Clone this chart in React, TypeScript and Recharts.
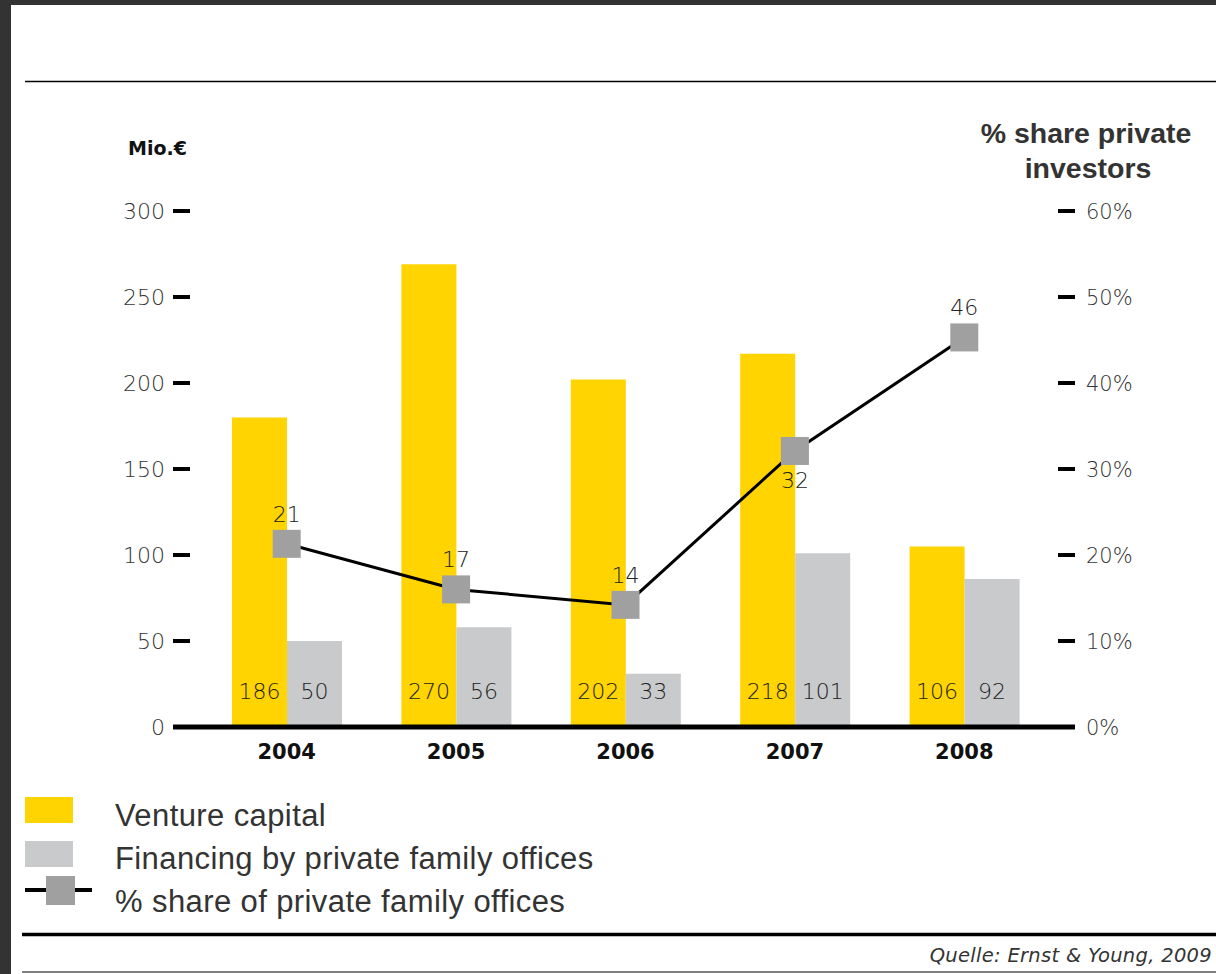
import React from 'react';
import { ComposedChart, Bar, Line, XAxis, YAxis, LabelList } from 'recharts';

const years = ['2004', '2005', '2006', '2007', '2008'];
const ventureCapital = [180, 269, 202, 217, 105];
const ventureCapitalLabels = ['186', '270', '202', '218', '106'];
const familyOffices = [50, 58, 31, 101, 86];
const familyOfficesLabels = ['50', '56', '33', '101', '92'];
const shareFamilyOffices = [21.3, 16, 14.2, 32.1, 45.3];
const shareLabels = ['21', '17', '14', '32', '46'];
const leftTicks = [0, 50, 100, 150, 200, 250, 300];
const rightTicks = [0, 10, 20, 30, 40, 50, 60];

const legendItems = ['Venture capital', 'Financing by private family offices', '% share of private family offices'];

const YELLOW = '#FFD400';
const LIGHTGRAY = '#C9CACC';
const MARKER = '#A0A0A0';
const TEXT = '#333333';
const NUMFONT = '"DejaVu Sans", sans-serif';

const data = years.map((y, i) => ({
  year: y,
  vc: ventureCapital[i],
  fo: familyOffices[i],
  pct: shareFamilyOffices[i],
}));

const XTick = (props: any) => {
  const { x, y, payload } = props;
  return (
    <text x={x} y={y + 32} textAnchor="middle" fontFamily={NUMFONT} fontWeight={700} fontSize={21} fill="#111">
      {payload.value}
    </text>
  );
};

const LeftTick = (props: any) => {
  const { x, y, payload } = props;
  return (
    <g>
      <line x1={x} x2={x + 17} y1={y} y2={y} stroke="#000" strokeWidth={4} />
      <text x={x - 8} y={y} dy="0.36em" textAnchor="end" fontFamily={NUMFONT} fontWeight={300} fontSize={22} fill={TEXT}>
        {payload.value}
      </text>
    </g>
  );
};

const RightTick = (props: any) => {
  const { x, y, payload } = props;
  return (
    <g>
      <line x1={x - 17} x2={x} y1={y} y2={y} stroke="#000" strokeWidth={4} />
      <text x={x + 11} y={y} dy="0.36em" textAnchor="start" fontFamily={NUMFONT} fontWeight={300} fontSize={21} fill={TEXT}>
        {`${payload.value}%`}
      </text>
    </g>
  );
};

const barLabel = (labels: string[]) => (props: any) => {
  const { x, y, width, height, index } = props;
  return (
    <text x={x + width / 2} y={y + height - 28} textAnchor="middle" fontFamily={NUMFONT} fontWeight={300} fontSize={22} fill="#222">
      {labels[index]}
    </text>
  );
};

const pctLabel = (props: any) => {
  const { x, y, index } = props;
  const below = index === 3;
  return (
    <text x={x} y={below ? y + 37 : y - 22} textAnchor="middle" fontFamily={NUMFONT} fontWeight={300} fontSize={22} fill="#222">
      {shareLabels[index]}
    </text>
  );
};

const SquareDot = (props: any) => {
  const { cx, cy, index } = props;
  return <rect key={`dot-${index}`} x={cx - 14} y={cy - 14} width={28} height={28} fill={MARKER} />;
};

export default function App() {
  return (
    <div style={{ position: 'absolute', left: 0, top: 0, width: 1216, height: 974, background: '#fff', overflow: 'hidden' }}>
      <div style={{ position: 'absolute', left: 0, top: 0 }}>
        <ComposedChart width={1216} height={770} data={data} margin={{ top: 211, right: 0, bottom: 0, left: 0 }} barGap={0}>
          <Bar dataKey="vc" yAxisId="left" fill={YELLOW} barSize={55} isAnimationActive={false}>
            <LabelList dataKey="vc" content={barLabel(ventureCapitalLabels)} />
          </Bar>
          <Bar dataKey="fo" yAxisId="left" fill={LIGHTGRAY} barSize={55} isAnimationActive={false}>
            <LabelList dataKey="fo" content={barLabel(familyOfficesLabels)} />
          </Bar>
          <XAxis
            dataKey="year"
            height={43}
            padding={{ left: 29, right: 26 }}
            axisLine={{ stroke: '#000', strokeWidth: 5 }}
            tickLine={false}
            tickSize={0}
            tickMargin={0}
            tick={<XTick />}
            interval={0}
          />
          <YAxis
            yAxisId="left"
            orientation="left"
            width={173}
            domain={[0, 300]}
            ticks={leftTicks}
            interval={0}
            axisLine={false}
            tickLine={false}
            tickSize={0}
            tickMargin={0}
            tick={<LeftTick />}
          />
          <YAxis
            yAxisId="right"
            orientation="right"
            width={141}
            domain={[0, 60]}
            ticks={rightTicks}
            interval={0}
            axisLine={false}
            tickLine={false}
            tickSize={0}
            tickMargin={0}
            tick={<RightTick />}
          />
          <Line
            dataKey="pct"
            yAxisId="right"
            stroke="#000"
            strokeWidth={3}
            dot={SquareDot}
            activeDot={false}
            isAnimationActive={false}
          >
            <LabelList dataKey="pct" content={pctLabel} />
          </Line>
        </ComposedChart>
      </div>
      <svg width={1216} height={974} style={{ position: 'absolute', left: 0, top: 0, pointerEvents: 'none' }}>
        <rect x={0} y={0} width={1216} height={5} fill="#333" />
        <rect x={0} y={0} width={11} height={974} fill="#333" />
        <line x1={25} x2={1216} y1={81.5} y2={81.5} stroke="#000" strokeWidth={1.5} />
        <text x={128} y={155} fontFamily={NUMFONT} fontWeight={700} fontSize={19} fill="#111">
          Mio.€
        </text>
        <text x={1086} y={143} textAnchor="middle" fontFamily='"Liberation Sans", Arial, sans-serif' fontWeight={700} fontSize={28.5} fill={TEXT}>
          % share private
        </text>
        <text x={1088} y={178} textAnchor="middle" fontFamily='"Liberation Sans", Arial, sans-serif' fontWeight={700} fontSize={28.5} fill={TEXT}>
          investors
        </text>
        <rect x={25} y={797} width={48} height={26} fill={YELLOW} />
        <rect x={25} y={841} width={48} height={26} fill={LIGHTGRAY} />
        <line x1={25} x2={92} y1={890} y2={890} stroke="#000" strokeWidth={4} />
        <rect x={46} y={876} width={29} height={29} fill={MARKER} />
        {legendItems.map((t, i) => (
          <text key={t} x={115} y={826 + i * 43} fontFamily='"Liberation Sans", Arial, sans-serif' fontSize={31} letterSpacing={0.4} fill={TEXT}>
            {t}
          </text>
        ))}
        <line x1={22} x2={1216} y1={934.5} y2={934.5} stroke="#000" strokeWidth={3.5} />
        <line x1={22} x2={1216} y1={972} y2={972} stroke="#000" strokeWidth={1} />
        <text x={1212} y={962} textAnchor="end" fontFamily={NUMFONT} fontWeight={300} fontStyle="italic" fontSize={19.5} letterSpacing={0.3} fill={TEXT}>
          Quelle: Ernst &amp; Young, 2009
        </text>
      </svg>
    </div>
  );
}
